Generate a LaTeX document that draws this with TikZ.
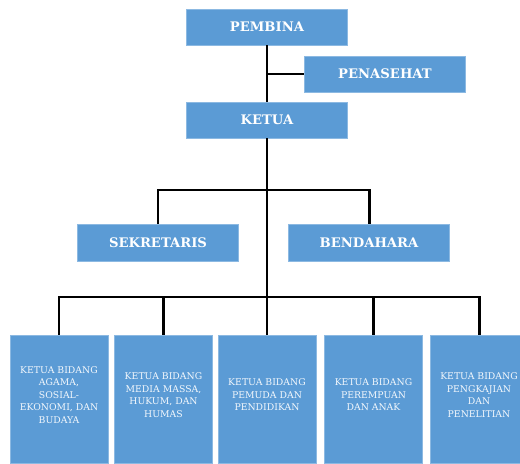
\documentclass[tikz,border=0pt]{standalone}
\usepackage{fontspec}
\setmainfont{DejaVu Serif}
\definecolor{boxblue}{HTML}{5B9BD5}
\tikzset{
  topbox/.style={draw=boxblue!70!white, fill=boxblue, text=white, font=\bfseries\fontsize{7.5}{9}\selectfont,
    minimum width=3.22cm, minimum height=0.72cm, inner sep=0pt},
  bidang/.style={draw=boxblue!70!white, fill=boxblue, minimum width=1.96cm, minimum height=2.56cm, inner sep=0pt},
  bidangtext/.style={text=white!92!boxblue, font=\fontsize{5.3}{7.1}\selectfont, align=center, inner sep=0pt, yshift=2.3pt},
  link/.style={line width=1.7pt}
}
\begin{document}
\begin{tikzpicture}[x=0.02cm, y=-0.02cm]
  \useasboundingbox (0,0) rectangle (520,463);
  % struktur atas
  \node[topbox] (pembina) at (267,27) {PEMBINA};
  \node[topbox] (penasehat) at (385,74) {PENASEHAT};
  \node[topbox] (ketua) at (267,120) {KETUA};
  \node[topbox, minimum height=0.74cm] (sekretaris) at (158,242.5) {SEKRETARIS};
  \node[topbox, minimum height=0.74cm] (bendahara) at (369,242.5) {BENDAHARA};
  % ketua bidang
  \node[bidang, label={[bidangtext]center:KETUA BIDANG\\AGAMA,\\SOSIAL-\\EKONOMI, DAN\\BUDAYA}] (agama) at (59,399) {};
  \node[bidang, label={[bidangtext]center:KETUA BIDANG\\MEDIA MASSA,\\HUKUM, DAN\\HUMAS}] (media) at (163.5,399) {};
  \node[bidang, label={[bidangtext]center:KETUA BIDANG\\PEMUDA DAN\\PENDIDIKAN}] (pemuda) at (267,399) {};
  \node[bidang, label={[bidangtext]center:KETUA BIDANG\\PEREMPUAN\\DAN ANAK}] (perempuan) at (373.5,399) {};
  \node[bidang, label={[bidangtext]center:KETUA BIDANG\\PENGKAJIAN\\DAN\\PENELITIAN}] (kajian) at (479,399) {};
  \coordinate (midbar) at (267,190);
  \coordinate (lowbar) at (267,297);
  % garis
  \draw[link] (pembina.south) -- (ketua.north);
  \draw[link] (pembina.south |- penasehat.west) -- (penasehat.west);
  \draw[link] (ketua.south) -- (pemuda.north);
  \draw[link] (sekretaris.north) |- (midbar) -| (bendahara.north);
  \draw[link] (agama.north) |- (lowbar) -| (kajian.north);
  \draw[link] (media.north) |- (lowbar);
  \draw[link] (perempuan.north) |- (lowbar);
\end{tikzpicture}
\end{document}
